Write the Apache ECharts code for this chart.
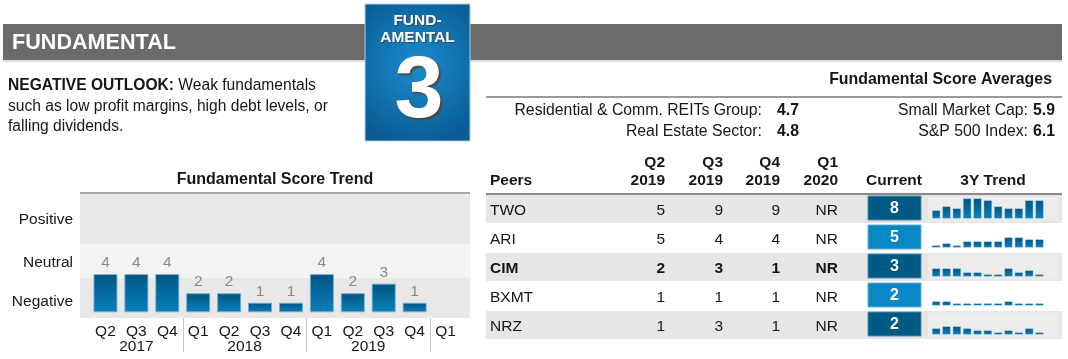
<!DOCTYPE html>
<html><head><meta charset="utf-8">
<script src="https://cdn.jsdelivr.net/npm/echarts@6/dist/echarts.min.js"></script>
<style>html,body{margin:0;padding:0;background:#fff}#c{width:1068px;height:359px}</style>
</head><body><div id="c"></div><script>
// ---------- data ----------
const quarters = ['Q2','Q3','Q4','Q1','Q2','Q3','Q4','Q1','Q2','Q3','Q4','Q1'];
const quarterYears = ['2017','2017','2017','2018','2018','2018','2018','2019','2019','2019','2019','2020'];
const yearLabels = ['2017','2018','2019'];
const trendScores = [4,4,4,2,2,1,1,4,2,3,1,null];
const bandNames = ['Negative','Neutral','Positive'];
const bandEdges = [-0.6, 3.6, 7.15, 12.5];
const bandLabelAt = [1.1, 5.2, 9.7];

const peers = ['TWO','ARI','CIM','BXMT','NRZ'];
const highlightPeer = 'CIM';
const peerColumns = [['Q2','2019'],['Q3','2019'],['Q4','2019'],['Q1','2020']];
const q2_2019 = [5,5,2,1,1];
const q3_2019 = [9,4,3,1,3];
const q4_2019 = [9,4,1,1,1];
const q1_2020 = ['NR','NR','NR','NR','NR'];
const currentScores = [8,5,3,2,2];
const trendTWO  = [4,6,5,10,10,9,6,5,5,9,9,null];
const trendARI  = [1,2,1,3,3,3,3,5,5,4,4,null];
const trendCIM  = [4,4,4,2,2,1,1,4,2,3,1,null];
const trendBXMT = [2,2,1,1,1,1,1,2,1,1,1,null];
const trendNRZ  = [3,4,4,3,2,2,1,2,1,3,1,null];

const avgLeftLabels = ['Residential & Comm. REITs Group:','Real Estate Sector:'];
const avgLeftValues = ['4.7','4.8'];
const avgRightLabels = ['Small Market Cap:','S&P 500 Index:'];
const avgRightValues = ['5.9','6.1'];
const fundamentalScore = 3;
const outlookTitle = 'NEGATIVE OUTLOOK:';
const outlookLines = ['Weak fundamentals','such as low profit margins, high debt levels, or','falling dividends.'];

// ---------- derived ----------
const peerValueCols = [q2_2019, q3_2019, q4_2019, q1_2020];
const peerTrends = [trendTWO, trendARI, trendCIM, trendBXMT, trendNRZ];
const yearCenters = [], yearSeparators = [], yearCenterNames = {};
(function(){
  let start = 0;
  for (let i = 1; i <= quarterYears.length; i++) {
    if (i === quarterYears.length || quarterYears[i] !== quarterYears[start]) {
      const c = (start + i - 1) / 2;
      if (yearLabels.indexOf(quarterYears[start]) >= 0) { yearCenters.push(c); yearCenterNames[c] = quarterYears[start]; }
      if (start > 0) yearSeparators.push(start - 0.5);
      start = i;
    }
  }
})();

// ---------- layout / style ----------
const FF = '"Liberation Sans", Arial, Helvetica, sans-serif';
const INK = '#161616';
const barGrad = {type:'linear',x:0,y:0,x2:0,y2:1,colorStops:[{offset:0,color:'#00557f'},{offset:1,color:'#0a80bd'}]};
const rowTop = i => 195 + 29 * i;
const colRight = [665, 723, 780, 838];

function T(text, x, y, o) {
  return {type:'text', z:10, silent:true, style:Object.assign({
    text:text, x:x, y:y, fill:INK, fontFamily:FF, fontSize:15.5, fontWeight:'normal',
    textAlign:'left', textVerticalAlign:'middle'}, o || {})};
}
function R(x, y, w, h, fill, o) {
  return Object.assign({type:'rect', z:0, silent:true, shape:{x:x,y:y,width:w,height:h}, style:{fill:fill}}, o || {});
}

const g = [];
// header bar
g.push(R(3, 24, 1059, 36, '#6b6b6b'));
g.push(R(3, 60, 1059, 2, '#dcdcdc'));
g.push(T('FUNDAMENTAL', 12, 43, {fill:'#fff', fontWeight:'bold', fontSize:21.6}));
// badge
g.push({type:'rect', z:5, silent:true, shape:{x:365,y:4,width:105,height:137},
  style:{fill:{type:'radial',x:0.5,y:0.45,r:0.75,colorStops:[{offset:0,color:'#1a8ccf'},{offset:1,color:'#0a5c93'}]},
  stroke:'#b5cfe3', lineWidth:1}});
const shadow = {textShadowColor:'rgba(60,40,20,0.55)', textShadowBlur:1, textShadowOffsetX:1, textShadowOffsetY:1};
g.push(T('FUND-', 417.5, 21, Object.assign({fill:'#fff', fontWeight:'bold', fontSize:15.5, textAlign:'center'}, shadow)));
g.push(T('AMENTAL', 417.5, 38, Object.assign({fill:'#fff', fontWeight:'bold', fontSize:15.5, textAlign:'center'}, shadow)));
g.push(T(String(fundamentalScore), 419, 93, {fill:'#fff', fontWeight:'bold', fontSize:88, textAlign:'center',
  textShadowColor:'rgba(90,60,30,0.8)', textShadowBlur:2, textShadowOffsetX:2, textShadowOffsetY:2}));
// outlook text
g.push({type:'text', z:10, silent:true, style:{text:'{b|' + outlookTitle + '} ' + outlookLines[0], x:8, y:86,
  fill:INK, fontFamily:FF, fontSize:15.6, textVerticalAlign:'middle',
  rich:{b:{fontWeight:'bold', fontFamily:FF, fontSize:15.6, fill:INK}}}});
g.push(T(outlookLines[1], 8, 106.5, {fontSize:15.6}));
g.push(T(outlookLines[2], 8, 127, {fontSize:15.6}));
// averages
g.push(T('Fundamental Score Averages', 1052, 80, {fontWeight:'bold', textAlign:'right', fontSize:15.9}));
g.push(R(486, 96, 576, 2, '#9a9a9a'));
avgLeftLabels.forEach((l, i) => {
  const y = 110.5 + 21 * i;
  g.push(T(l, 762, y, {textAlign:'right', fontSize:15.8}));
  g.push(T(avgLeftValues[i], 777, y, {fontWeight:'bold', fontSize:15.8}));
  g.push(T(avgRightLabels[i], 1028, y, {textAlign:'right', fontSize:15.8}));
  g.push(T(avgRightValues[i], 1033, y, {fontWeight:'bold', fontSize:15.8}));
});
// trend title
g.push(T('Fundamental Score Trend', 275, 180, {fontWeight:'bold', textAlign:'center', fontSize:16}));
g.push(R(80, 192, 390, 2, '#a8a8a8', {z:3}));
// peers table header
g.push(T('Peers', 490, 181, {fontWeight:'bold'}));
peerColumns.forEach((c, j) => {
  g.push(T(c[0], colRight[j], 163, {fontWeight:'bold', textAlign:'right'}));
  g.push(T(c[1], colRight[j], 181, {fontWeight:'bold', textAlign:'right'}));
});
g.push(T('Current', 894, 181, {fontWeight:'bold', textAlign:'center'}));
g.push(T('3Y Trend', 993, 181, {fontWeight:'bold', textAlign:'center'}));
g.push(R(486, 193, 576, 2, '#8a8a8a'));
// peer rows
peers.forEach((p, i) => {
  const y0 = rowTop(i);
  const bold = p === highlightPeer ? 'bold' : 'normal';
  if (i % 2 === 0) {
    g.push(R(486, y0, 576, 28, '#e6e6e6'));
    g.push(R(928, y0 + 2, 130, 24, '#ececec'));
  }
  g.push(T(p, 490, y0 + 15.5, {fontWeight:bold}));
  peerValueCols.forEach((col, j) => g.push(T(String(col[i]), colRight[j], y0 + 15.5, {fontWeight:bold, textAlign:'right'})));
  g.push({type:'rect', z:4, silent:true, shape:{x:868,y:y0+1,width:53,height:24},
    style:{fill: i % 2 === 0 ? '#005a84' : '#0a88c6', stroke: i % 2 === 0 ? '#4f8db0' : '#5fb0dc', lineWidth:1}});
  g.push(T(String(currentScores[i]), 894.5, y0 + 13.5, {fill:'#fff', fontWeight:'bold', fontSize:16, textAlign:'center'}));
});

// ---------- chart option ----------
const grids = [
  {left:80, top:193, width:390, height:125},
  {left:90, top:193, width:371, height:125}
];
const xAxes = [
  {gridIndex:0, type:'value', min:0, max:1, show:false},
  {gridIndex:1, type:'category', data:quarters,
    axisLine:{show:false, onZero:false}, axisTick:{show:false},
    axisLabel:{color:INK, fontSize:15.5, fontFamily:FF, margin:6}},
  {gridIndex:1, type:'value', min:-0.5, max:11.5, position:'bottom',
    axisLine:{show:false, onZero:false}, splitLine:{show:false},
    axisTick:{show:true, customValues:yearSeparators, length:34, lineStyle:{color:'#c8c8c8', width:1}},
    axisLabel:{customValues:yearCenters, formatter:v => yearCenterNames[v] || '', color:INK, fontSize:15.5, fontFamily:FF, margin:21}}
];
const yAxes = [
  {gridIndex:0, type:'value', min:bandEdges[0], max:bandEdges[3],
    axisLine:{show:false}, axisTick:{show:false}, splitLine:{show:false},
    axisLabel:{customValues:bandLabelAt, formatter:v => bandNames[bandLabelAt.indexOf(v)] || '',
      color:INK, fontSize:15.5, fontFamily:FF, margin:7}},
  {gridIndex:1, type:'value', min:bandEdges[0], max:bandEdges[3], show:false}
];
const bandColors = ['#e8e8e8', '#f3f3f3', '#e8e8e8'];
const series = [
  {type:'line', xAxisIndex:0, yAxisIndex:0, data:[], silent:true, z:1,
    markArea:{silent:true, data:bandNames.map((n, k) => [
      {xAxis:0, yAxis:bandEdges[k], itemStyle:{color:bandColors[k]}},
      {xAxis:1, yAxis:bandEdges[k + 1]}])}},
  {type:'bar', xAxisIndex:1, yAxisIndex:1, data:trendScores, barWidth:24, z:3,
    itemStyle:{color:barGrad, borderColor:'rgba(110,175,215,0.9)', borderWidth:1},
    label:{show:true, position:'top', distance:3, color:'#8a8a8a', fontSize:15.5, fontFamily:FF}}
];
peerTrends.forEach((d, i) => {
  grids.push({left:931, top:rowTop(i) + 3.5, width:124, height:20});
  xAxes.push({gridIndex:i + 2, type:'category', data:quarters, show:false});
  yAxes.push({gridIndex:i + 2, type:'value', min:0, max:10, show:false});
  series.push({type:'bar', xAxisIndex:i + 3, yAxisIndex:i + 2, data:d, barWidth:8, z:3,
    itemStyle:{color:barGrad, borderColor:'rgba(110,175,215,0.6)', borderWidth:0.5}});
});
grids.forEach(gr => { gr.outerBoundsMode = 'none'; gr.containLabel = false; });

const chart = echarts.init(document.getElementById('c'), null, {renderer:'canvas'});
chart.setOption({
  animation:false,
  backgroundColor:'#ffffff',
  textStyle:{fontFamily:FF},
  grid:grids, xAxis:xAxes, yAxis:yAxes, series:series,
  graphic:{elements:g}
});
</script></body></html>
